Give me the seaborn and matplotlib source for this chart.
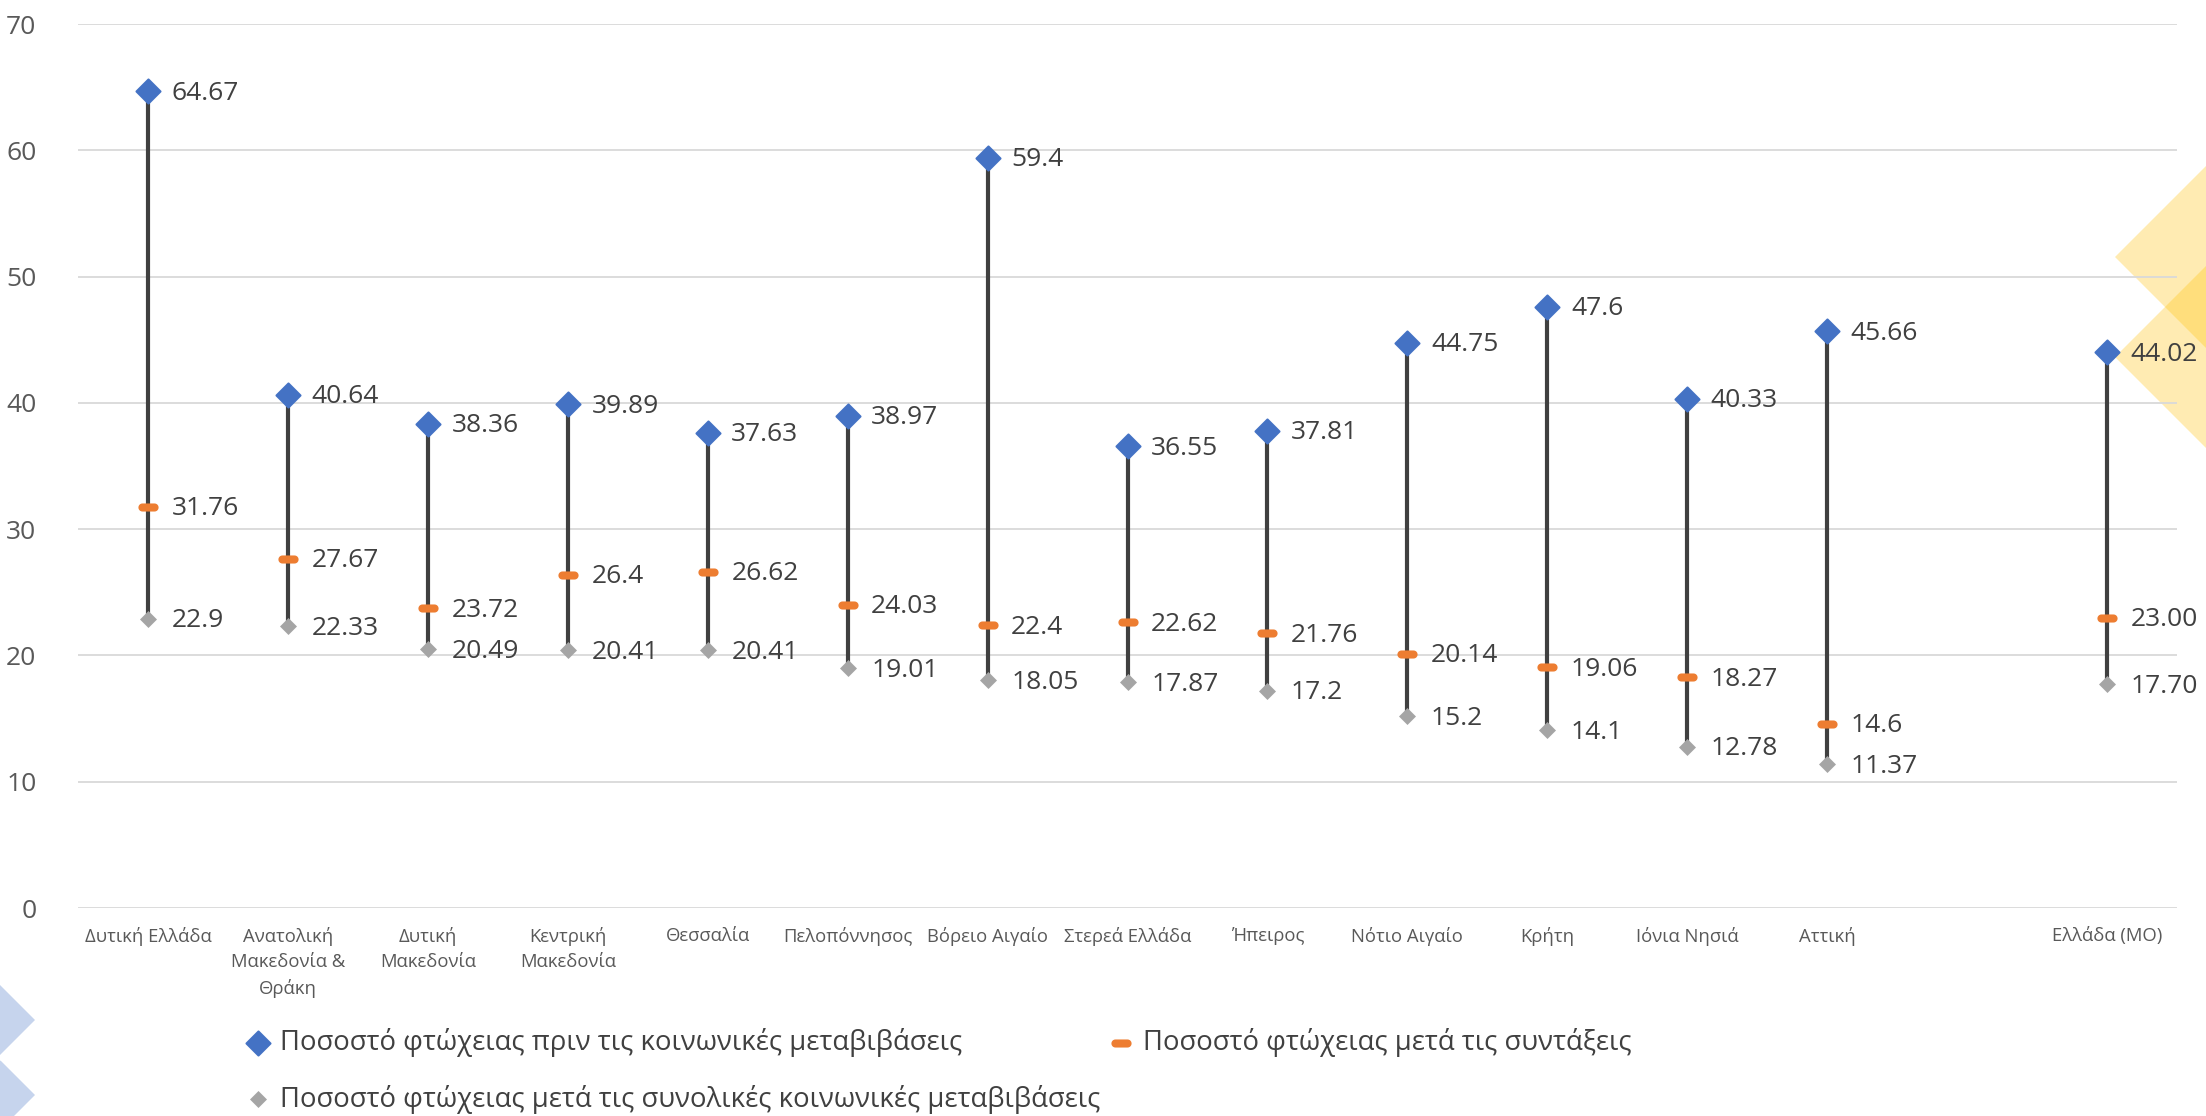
import numpy as np
import pandas as pd
import matplotlib.pyplot as plt
import seaborn as sns
from matplotlib.markers import MarkerStyle
from matplotlib.patches import Polygon

# data
regions = ['Δυτική Ελλάδα', 'Ανατολική\nΜακεδονία &\nΘράκη', 'Δυτική\nΜακεδονία',
           'Κεντρική\nΜακεδονία', 'Θεσσαλία', 'Πελοπόννησος', 'Βόρειο Αιγαίο',
           'Στερεά Ελλάδα', 'Ήπειρος', 'Νότιο Αιγαίο', 'Κρήτη', 'Ιόνια Νησιά',
           'Αττική', '', 'Ελλάδα (ΜΟ)']
before_transfers = [64.67, 40.64, 38.36, 39.89, 37.63, 38.97, 59.4, 36.55, 37.81,
                    44.75, 47.6, 40.33, 45.66, np.nan, 44.02]
after_pensions = [31.76, 27.67, 23.72, 26.4, 26.62, 24.03, 22.4, 22.62, 21.76,
                  20.14, 19.06, 18.27, 14.6, np.nan, 23.00]
after_transfers = [22.9, 22.33, 20.49, 20.41, 20.41, 19.01, 18.05, 17.87, 17.2,
                   15.2, 14.1, 12.78, 11.37, np.nan, 17.70]
label_before = 'Ποσοστό φτώχειας πριν τις κοινωνικές μεταβιβάσεις'
label_pensions = 'Ποσοστό φτώχειας μετά τις συντάξεις'
label_after = 'Ποσοστό φτώχειας μετά τις συνολικές κοινωνικές μεταβιβάσεις'

df = pd.DataFrame({'region': regions, 'before': before_transfers,
                   'pensions': after_pensions, 'after': after_transfers})
df['pos'] = np.arange(len(df))

sns.set_style('white')
plt.rcParams['font.family'] = ['Open Sans', 'DejaVu Sans']

W, H = 2206, 1116
fig = plt.figure(figsize=(W / 100, H / 100), dpi=100)
ax = fig.add_axes([78 / W, 1 - 908 / H, (2177 - 78) / W, (908 - 24) / H])
ax.patch.set_alpha(0)


def px(pts):
    return [(x / W, 1 - y / H) for x, y in pts]


# decorative shapes
yellow = '#FFC000'
for ty in (257, 357):
    fig.patches.append(Polygon(px([(2115, ty), (2115 + 200, ty - 200), (2115 + 400, ty),
                                   (2115 + 200, ty + 200)]),
                               closed=True, transform=fig.transFigure, facecolor=yellow,
                               alpha=0.3, edgecolor='none', zorder=-5))
blue_light = '#4472C4'
for ty in (1020, 1095):
    fig.patches.append(Polygon(px([(-200, ty - 235), (35, ty), (-200, ty + 235)]),
                               closed=True, transform=fig.transFigure, facecolor=blue_light,
                               alpha=0.3, edgecolor='none', zorder=-5))
fig.patches.append(Polygon(px([(0, 1055), (3, 1058), (0, 1061)]), closed=True,
                           transform=fig.transFigure, facecolor='white', edgecolor='none',
                           zorder=-4))

# rounded dash marker for the pensions series
t = np.linspace(-np.pi / 2, np.pi / 2, 12)
r = 0.4
right = np.column_stack([0.6 + r * np.cos(t), r * np.sin(t)])
left = np.column_stack([-0.6 - r * np.cos(t), -r * np.sin(t)])
dash = np.vstack([right, left, right[:1]])

# stems
ax.vlines(df['pos'], df['after'], df['before'], color='#404040', linewidth=3, zorder=2)

sns.scatterplot(data=df, x='pos', y='before', ax=ax, color='#4472C4',
                marker=MarkerStyle('D', joinstyle='round'), s=150,
                edgecolor='#4472C4', linewidth=1.5, label=label_before, zorder=4)
sns.scatterplot(data=df, x='pos', y='pensions', ax=ax, color='#ED7D31',
                marker=dash, s=210, edgecolor='#ED7D31', linewidth=0,
                label=label_pensions, zorder=4)
sns.scatterplot(data=df, x='pos', y='after', ax=ax, color='#A5A5A5',
                marker='D', s=75, edgecolor='#A5A5A5', linewidth=0,
                label=label_after, zorder=4)

# data labels
n = len(df)
for col in ('before', 'pensions', 'after'):
    for i, v in enumerate(df[col]):
        if np.isnan(v):
            continue
        txt = f'{v:.2f}' if i == n - 1 else f'{v:g}'
        ax.annotate(txt, (i, v), xytext=(17, -1.5), textcoords='offset points',
                    va='center', ha='left', fontsize=19, color='#404040', zorder=5)

ax.set_xlim(-0.5, n - 0.5)
ax.set_ylim(0, 70)
ax.set_yticks(range(0, 71, 10))
ax.set_xticks(df['pos'])
ax.set_xticklabels(regions, fontsize=13.3, color='#595959', linespacing=1.5)
ax.tick_params(axis='y', labelsize=19, labelcolor='#595959', length=0, pad=30)
ax.tick_params(axis='x', length=0, pad=14)
ax.set_xlabel('')
ax.set_ylabel('')
ax.grid(axis='y', color='#D9D9D9', linewidth=1.3)
ax.set_axisbelow(True)
sns.despine(ax=ax, left=True, bottom=True)

handles, labels = ax.get_legend_handles_labels()
ax.get_legend().remove()
order = [0, 2, 1]
fig.legend([handles[i] for i in order], [labels[i] for i in order],
           loc='upper left', bbox_to_anchor=(244 / W, 1 - 1028 / H), ncol=2,
           frameon=False, fontsize=19.8, handlelength=1.0, handletextpad=0.3,
           columnspacing=0.25, labelspacing=1.0, borderpad=0, borderaxespad=0,
           labelcolor='#404040')

fig.savefig('out.png', dpi=100)
